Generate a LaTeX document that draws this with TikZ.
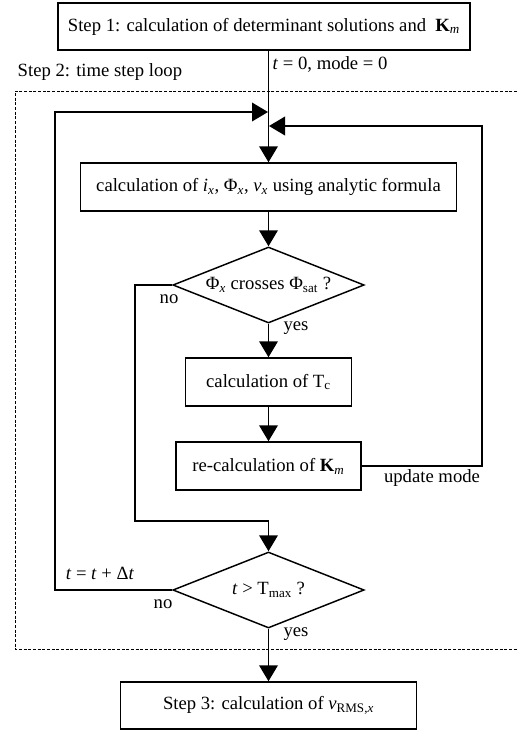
\documentclass[tikz,border=0pt]{standalone}
\usepackage{fontspec}
\setmainfont{Liberation Serif}
\usepackage{tikz}
\usetikzlibrary{arrows.meta,shapes.geometric}

\begin{document}
\begin{tikzpicture}[x=0.75pt,y=-0.75pt,
  font=\fontsize{14}{16}\selectfont,
  box/.style={draw,line width=1.1pt,inner sep=0pt},
  stepbox/.style={box,minimum height=35.25pt},
  dec/.style={diamond,draw,line width=1.1pt,inner sep=0pt,aspect=2.5,
    minimum width=143.5pt,minimum height=57pt},
  arr/.style={line width=1.1pt,-{Triangle[length=12pt,width=14pt]}},
  loop/.style={line width=0.45pt,dash pattern=on 2.2pt off 1.3pt}]
  \useasboundingbox (0,0) rectangle (517,733);
  \node[stepbox,minimum width=309pt] (s1) at (264,26.5)
    {Step 1: calculation of determinant solutions and\hspace{0.25em} \textbf{K}\textsubscript{\textit{m}}};
  \node[box,minimum width=282pt,minimum height=36pt] (calc) at (268.5,187)
    {calculation of \textit{i}\textsubscript{\textit{x}}, Φ\textsubscript{\textit{x}},
     \textit{v}\textsubscript{\textit{x}} using analytic formula};
  \node[dec] (cross) at (268.5,285)
    {Φ\textsubscript{\textit{x}} crosses Φ\textsubscript{sat} ?};
  \node[box,minimum width=124.5pt,minimum height=36pt] (tc) at (268.5,382)
    {calculation of T\textsubscript{c}};
  \node[box,minimum width=138.75pt,minimum height=36pt] (km) at (268.5,466)
    {re-calculation of \textbf{K}\textsubscript{\textit{m}}};
  \node[dec] (tmax) at (268.5,590) {\textit{t} > T\textsubscript{max} ?};
  \node[stepbox,minimum width=222pt] (s3) at (268.5,705.5)
    {Step 3: calculation of \textit{v}\textsubscript{RMS,\textit{x}}};
  % loop frame and labels
  \draw[loop] (517,91) -- (15,91) -- (15,649) -- (517,649);
  \node[anchor=west] (steptwo) at (13,72) {Step 2: time step loop};
  \node[anchor=west] (init) at (268,64) {\textit{t} = 0, mode = 0};
  \node (no1) at (169,299) {no};
  \node (yes1) at (296,328) {yes};
  \node (upd) at (432,478) {update mode};
  \node (inc) at (100,573) {\textit{t} = \textit{t} + Δ\textit{t}};
  \node (no2) at (163,604) {no};
  \node (yes2) at (296,634) {yes};
  % junctions
  \coordinate (jl) at (268,112);
  \coordinate (lp) at (55,112);
  \coordinate (jr) at (269,126);
  \coordinate (rp) at (482,126);
  \coordinate (bp) at (135,521);
  % connectors
  \draw[arr] (s1.south -| calc.north) -- (calc.north);
  \draw[arr] (calc) -- (cross);
  \draw[arr] (cross) -- (tc);
  \draw[arr] (tc) -- (km);
  \draw[arr] (cross.west) -| (bp) -| (tmax.north);
  \draw[arr] (tmax) -- (s3);
  \draw[arr] (tmax.west) -| (lp) -- (jl);
  \draw[arr] (km.east) -| (rp) -- (jr);
\end{tikzpicture}
\end{document}
